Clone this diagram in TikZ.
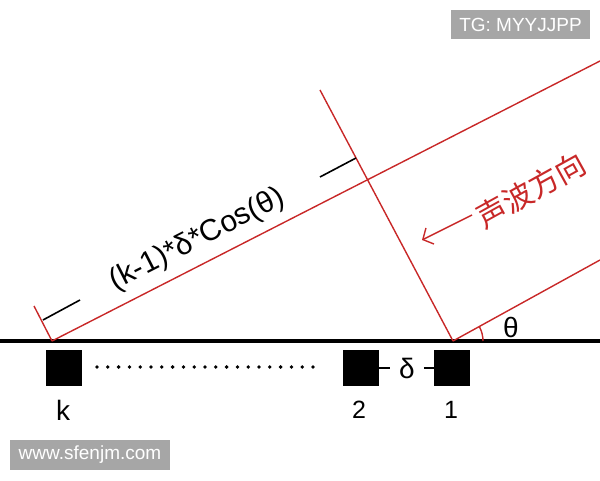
\documentclass[tikz,border=0pt]{standalone}
\usepackage{fontspec}
\setmainfont{Liberation Sans}
\newfontfamily\cjk{Noto Sans CJK SC}
\usetikzlibrary{arrows.meta}
\definecolor{wavered}{RGB}{200,40,40}
\definecolor{markgray}{RGB}{166,166,166}

\begin{document}
\begin{tikzpicture}
        [x=1pt, y=1pt,
        sensor/.style={fill=black, minimum size=36pt, inner sep=0pt},
        num/.style={font=\fontsize{25}{30}\selectfont},
        sym/.style={font=\fontsize{28}{32}\selectfont},
        wave/.style={wavered, line width=1.4pt},
        tick/.style={black, line width=1.6pt},
        floor/.style={black, line width=4.5pt},
        wmbox/.style={fill=markgray, text=white, inner sep=0pt, font=\fontsize{19}{22}\selectfont}]

        \useasboundingbox (0,0) rectangle (600,480);

        % array line
        \coordinate (gl) at (0,139);
        \coordinate (gr) at (600,139);
        \draw[floor] (gl) -- (gr);

        % sensors and their numbers
        \node[sensor] (sk) at (64,112) {};
        \node[sensor] (s2) at (361,112) {};
        \node[sensor] (s1) at (452,112) {};
        \node[sym] (lk) at (63,70) {k};
        \node[num] (l2) at (359,70) {2};
        \node[num] (l1) at (451,70) {1};

        % dots and spacing between sensors
        \coordinate (dl) at (97,113);
        \coordinate (dr) at (314,113);
        \draw[black, line width=3.8pt, line cap=round, dash pattern=on 0pt off 10.8pt] (dl) -- (dr);
        \node[sym, inner xsep=9pt] (dt) at (407,112) {δ};
        \draw[black, line width=2pt] (s2.east) -- (dt.west);
        \draw[black, line width=2pt] (dt.east) -- (s1.west);

        % wave fronts (red)
        \coordinate (pk) at (52,139);
        \coordinate (p1) at (453,139);
        \coordinate (up) at (600,419);
        \coordinate (lo) at (600,220);
        \coordinate (mid) at (320,390);
        \coordinate (tk) at (34,174);
        \draw[wave] (pk) -- (up);
        \draw[wave] (p1) -- (lo);
        \draw[wave] (p1) -- (mid);
        \draw[wave] (pk) -- (tk);
        \draw[wave] (p1) ++(30pt,0) arc[start angle=0, end angle=28, radius=30pt];
        \node[sym] (th) at (511,153) {θ};

        % path difference
        \coordinate (da) at (43,160);
        \coordinate (db) at (80,180);
        \coordinate (dc) at (320,303);
        \coordinate (dd) at (356,322);
        \draw[tick] (da) -- (db);
        \draw[tick] (dc) -- (dd);
        \node[font=\fontsize{30}{36}\selectfont, rotate=27] (len) at (197,240) {(k-1)*δ*Cos(θ)};

        % direction of the sound
        \coordinate (at) at (472,265);
        \coordinate (ah) at (422,240);
        \draw[wave, -{Straight Barb[length=8pt, width=18pt]}] (at) -- (ah);
        \node[text=wavered, font=\cjk\fontsize{30}{34}\selectfont, rotate=29] (dir) at (531,290) {声波方向};

        % watermarks
        \node[wmbox, minimum width=139pt, minimum height=29pt] (tg) at (520.5,455.5) {TG: MYYJJPP};
        \node[wmbox, minimum width=160pt, minimum height=30pt] (www) at (90,25) {www.sfenjm.com};

        \end{tikzpicture}
\end{document}
